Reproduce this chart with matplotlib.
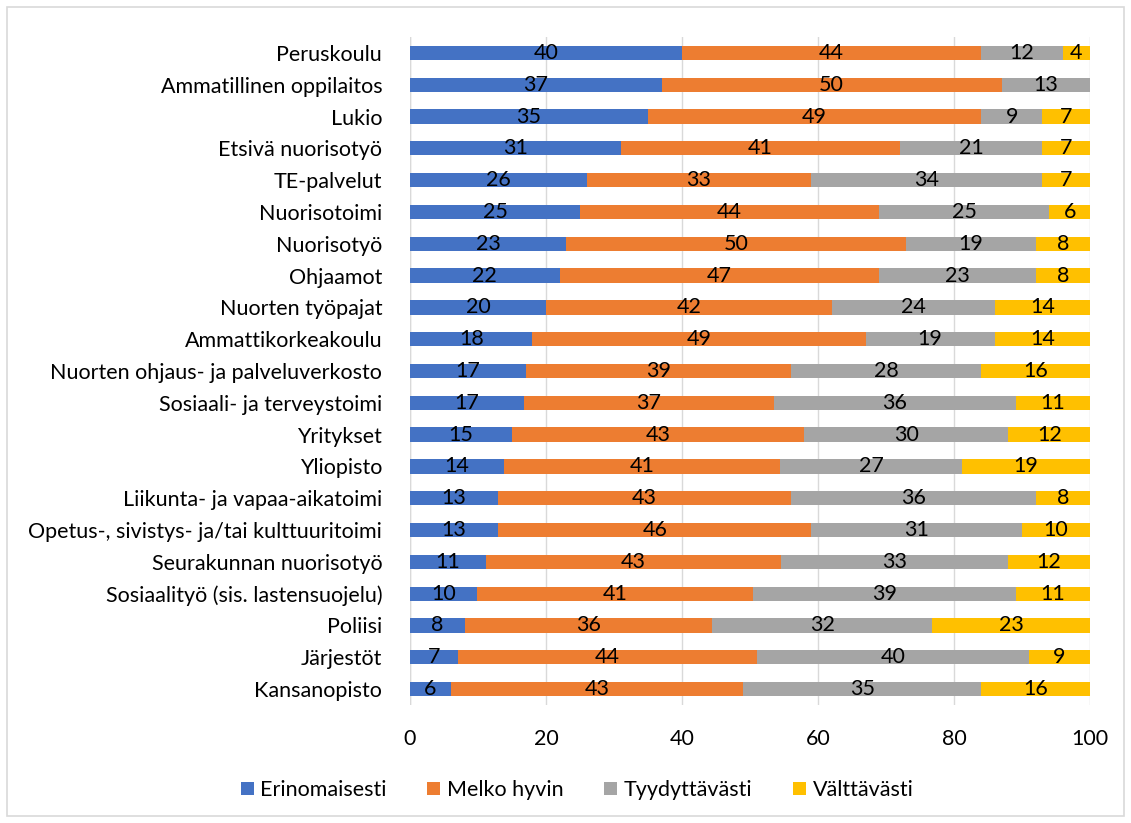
import matplotlib
matplotlib.use("Agg")
import matplotlib.pyplot as plt
import numpy as np
from matplotlib.patches import Rectangle

plt.rcParams['font.family'] = ['Lato', 'DejaVu Sans']

categories = ["Peruskoulu", "Ammatillinen oppilaitos", "Lukio", "Etsivä nuorisotyö",
              "TE-palvelut", "Nuorisotoimi", "Nuorisotyö", "Ohjaamot", "Nuorten työpajat",
              "Ammattikorkeakoulu", "Nuorten ohjaus- ja palveluverkosto",
              "Sosiaali- ja terveystoimi", "Yritykset", "Yliopisto",
              "Liikunta- ja vapaa-aikatoimi", "Opetus-, sivistys- ja/tai kulttuuritoimi",
              "Seurakunnan nuorisotyö", "Sosiaalityö (sis. lastensuojelu)", "Poliisi",
              "Järjestöt", "Kansanopisto"]
erinomaisesti = [40, 37, 35, 31, 26, 25, 23, 22, 20, 18, 17, 17, 15, 14, 13, 13, 11, 10, 8, 7, 6]
melko_hyvin   = [44, 50, 49, 41, 33, 44, 50, 47, 42, 49, 39, 37, 43, 41, 43, 46, 43, 41, 36, 44, 43]
tyydyttavasti = [12, 13, 9, 21, 34, 25, 19, 23, 24, 19, 28, 36, 30, 27, 36, 31, 33, 39, 32, 40, 35]
valttavasti   = [4, 0, 7, 7, 7, 6, 8, 8, 14, 14, 16, 11, 12, 19, 8, 10, 12, 11, 23, 9, 16]
series_names = ["Erinomaisesti", "Melko hyvin", "Tyydyttävästi", "Välttävästi"]
colors = ["#4472C4", "#ED7D31", "#A5A5A5", "#FFC000"]

data = np.array([erinomaisesti, melko_hyvin, tyydyttavasti, valttavasti], dtype=float)
pct = data / data.sum(axis=0) * 100

FS = 15.5
fig = plt.figure(figsize=(11.31, 8.23), dpi=100)
ax = fig.add_axes([410/1131, 1-705/823, 680/1131, 668/823])

y = np.arange(len(categories))
left = np.zeros(len(categories))
handles = []
for i in range(4):
    bars = ax.barh(y, pct[i], left=left, height=0.45, color=colors[i], label=series_names[i], zorder=3)
    handles.append(bars)
    for j, b in enumerate(bars):
        v = data[i, j]
        if v > 0:
            ax.text(left[j] + pct[i, j]/2, y[j], f"{int(v)}", ha='center', va='center',
                    fontsize=FS, color='black', zorder=4)
    left += pct[i]

ax.set_xlim(0, 100)
ax.set_ylim(len(categories) - 0.5, -0.5)
ax.set_yticks(y)
ax.set_yticklabels(categories, fontsize=FS)
ax.set_xticks([0, 20, 40, 60, 80, 100])
ax.tick_params(axis='x', labelsize=FS, length=0, pad=17)
ax.tick_params(axis='y', length=0, pad=20)
ax.grid(axis='x', color='#D9D9D9', linewidth=1, zorder=0)
for s in ax.spines.values():
    s.set_visible(False)
ax.axvline(0, color='#D9D9D9', linewidth=1, zorder=2)

leg = fig.legend(handles=handles, labels=series_names, loc='center', bbox_to_anchor=(577/1131, 1-790/823),
                 ncol=4, frameon=False, fontsize=FS, handlelength=0.6, handleheight=0.6,
                 columnspacing=1.9, handletextpad=0.3)

fig.patches.append(Rectangle((7/1131, 7/823), 1-14/1131, 1-14/823, transform=fig.transFigure,
                             fill=False, edgecolor='#D9D9D9', linewidth=1.2))

fig.savefig("out.png", dpi=100)
